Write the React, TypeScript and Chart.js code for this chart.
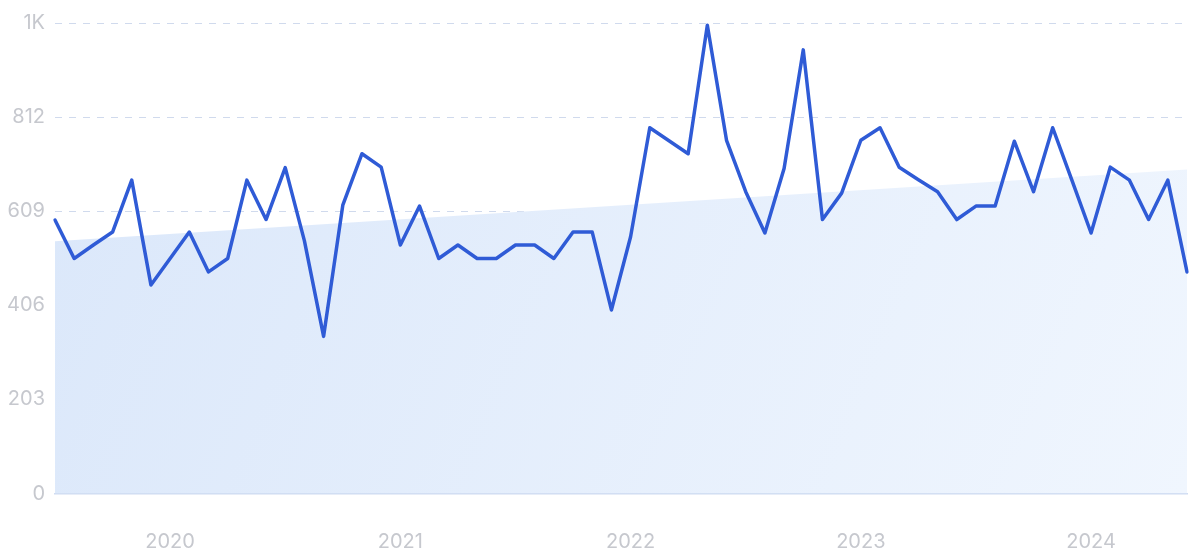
import React, { useEffect, useRef } from "react";
import { Chart, registerables } from "chart.js";

Chart.register(...registerables);

const months: string[] = [];
for (let y = 2019; y <= 2024; y++) {
  for (let m = 1; m <= 12; m++) {
    if ((y === 2019 && m < 7) || (y === 2024 && m > 6)) continue;
    months.push(`${y}-${String(m).padStart(2, "0")}`);
  }
}

const values: number[] = [
  590, 507, 536, 564, 676, 450, 507, 564, 478, 507,
  676, 591, 703, 545, 339, 622, 733, 704, 536, 620,
  507, 536, 507, 507, 536, 536, 507, 564, 564, 396,
  554, 789, 761, 733, 1010, 762, 651, 562, 701, 957,
  591, 648, 762, 789, 704, 677, 651, 591, 620, 620,
  760, 651, 789, 676, 562, 704, 676, 591, 676, 478,
];

const trendStart = 544;
const trendEnd = 699;

const yMax = 1015;
const yStep = 203;

export default function App() {
  const ref = useRef<HTMLCanvasElement | null>(null);

  useEffect(() => {
    if (!ref.current) return;
    document.body.style.margin = "0";
    document.body.style.overflow = "hidden";
    const last = months.length - 1;
    const trend = months.map((_, i) => (i === 0 ? trendStart : i === last ? trendEnd : null));

    const chart = new Chart(ref.current, {
      type: "line",
      data: {
        labels: months,
        datasets: [
          {
            data: values,
            borderColor: "#2f5bd6",
            borderWidth: 3.5,
            borderJoinStyle: "round",
            borderCapStyle: "round",
            pointRadius: 0,
            tension: 0,
            fill: false,
            order: 0,
          },
          {
            data: trend as any,
            spanGaps: true,
            borderWidth: 0,
            borderColor: "rgba(0,0,0,0)",
            pointRadius: 0,
            tension: 0,
            fill: "origin",
            order: 1,
            backgroundColor: (ctx: any) => {
              const ca = ctx.chart.chartArea;
              if (!ca) return "rgba(220,233,250,1)";
              const g = ctx.chart.ctx.createLinearGradient(ca.left, ca.top, ca.right, ca.bottom);
              g.addColorStop(0, "rgba(218,231,250,1)");
              g.addColorStop(1, "rgba(240,246,254,1)");
              return g;
            },
          },
        ],
      },
      options: {
        animation: false,
        responsive: false,
        maintainAspectRatio: false,
        devicePixelRatio: 1,
        layout: { padding: { top: 23, right: 13, bottom: 0, left: 0 } },
        plugins: { legend: { display: false }, tooltip: { enabled: false } },
        scales: {
          x: {
            grid: { display: false, drawTicks: false },
            border: { display: true, color: "#cfdcf2", width: 1.5 },
            ticks: {
              autoSkip: false,
              maxRotation: 0,
              padding: 36,
              color: "#c6c8ce",
              font: { family: "Inter", size: 20 },
              callback: (_v: any, i: number) => (months[i].endsWith("-01") ? months[i].slice(0, 4) : ""),
            },
            afterFit: (s: any) => {
              s.height = 61.5;
              s.paddingRight = 0;
              s.paddingLeft = 0;
            },
          },
          y: {
            min: 0,
            max: yMax,
            border: { display: false, dash: [7, 7] },
            grid: { color: "rgba(205,216,236,0.95)", drawTicks: false, lineWidth: 1 },
            ticks: {
              stepSize: yStep,
              padding: 10,
              color: "#c6c8ce",
              font: { family: "Inter", size: 20 },
              callback: (v: any) => (v === yMax ? "1K" : String(v)),
            },
            afterFit: (s: any) => {
              s.width = 55;
            },
          },
        },
      },
    });
    return () => chart.destroy();
  }, []);

  return (
    <div style={{ position: "absolute", left: 0, top: 0, width: 1200, height: 555, background: "#fff" }}>
      <canvas ref={ref} width={1200} height={555} style={{ display: "block", width: 1200, height: 555 }} />
    </div>
  );
}
